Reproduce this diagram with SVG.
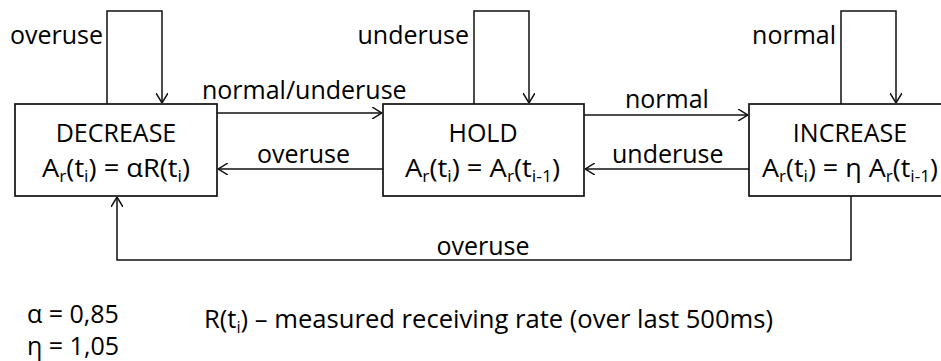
<svg xmlns="http://www.w3.org/2000/svg" width="941" height="361" viewBox="0 0 941 361">
<style>
.t{font-family:"Open Sans","Liberation Sans",sans-serif;font-size:25px;fill:#000}
.s{font-size:16px}
.b{fill:#fff;stroke:#111;stroke-width:1.7}
.c{fill:none;stroke:#111;stroke-width:1.5}
</style>
<defs>
<marker id="ah" viewBox="0 0 10 12" refX="10" refY="6" markerWidth="10" markerHeight="12" markerUnits="userSpaceOnUse" orient="auto">
<path d="M0,0 L10,6 L0,12" fill="none" stroke="#111" stroke-width="1.5"/>
</marker>
</defs>
<rect width="941" height="361" fill="#fff"/>
<g id="connectors">
<path class="c" d="M107,104 V11 H162 V103" marker-end="url(#ah)"/>
<path class="c" d="M474,104 V11 H529 V103" marker-end="url(#ah)"/>
<path class="c" d="M841,104 V11 H896 V103" marker-end="url(#ah)"/>
<path class="c" d="M217,113 H382" marker-end="url(#ah)"/>
<path class="c" d="M383,169 H218" marker-end="url(#ah)"/>
<path class="c" d="M584,115 H748" marker-end="url(#ah)"/>
<path class="c" d="M749,169 H585" marker-end="url(#ah)"/>
<path class="c" d="M851,196 V260 H117 V197" marker-end="url(#ah)"/>
<text class="t" x="103" y="44" text-anchor="end">overuse</text>
<text class="t" x="469" y="44" text-anchor="end">underuse</text>
<text class="t" x="836" y="44" text-anchor="end">normal</text>
<text class="t" x="202" y="99">normal/underuse</text>
<text class="t" x="257" y="163">overuse</text>
<text class="t" x="625" y="108">normal</text>
<text class="t" x="612" y="163">underuse</text>
<text class="t" x="483" y="255" text-anchor="middle">overuse</text>
</g>
<g id="decrease">
<rect class="b" x="15" y="104" width="202" height="92"/>
<text class="t" x="116" y="142" text-anchor="middle">DECREASE</text>
<text class="t" x="42" y="177" textLength="148" lengthAdjust="spacingAndGlyphs">A<tspan class="s" dy="5">r</tspan><tspan dy="-5">(t</tspan><tspan class="s" dy="5">i</tspan><tspan dy="-5">) = αR(t</tspan><tspan class="s" dy="5">i</tspan><tspan dy="-5">)</tspan></text>
</g>
<g id="hold">
<rect class="b" x="383" y="104" width="201" height="92"/>
<text class="t" x="483" y="142" text-anchor="middle">HOLD</text>
<text class="t" x="405" y="177" textLength="155" lengthAdjust="spacingAndGlyphs">A<tspan class="s" dy="5">r</tspan><tspan dy="-5">(t</tspan><tspan class="s" dy="5">i</tspan><tspan dy="-5">) = A</tspan><tspan class="s" dy="5">r</tspan><tspan dy="-5">(t</tspan><tspan class="s" dy="5">i-1</tspan><tspan dy="-5">)</tspan></text>
</g>
<g id="increase">
<rect class="b" x="749" y="104" width="202" height="92"/>
<text class="t" x="850" y="142" text-anchor="middle">INCREASE</text>
<text class="t" x="762" y="177" textLength="176" lengthAdjust="spacingAndGlyphs">A<tspan class="s" dy="5">r</tspan><tspan dy="-5">(t</tspan><tspan class="s" dy="5">i</tspan><tspan dy="-5">) = η A</tspan><tspan class="s" dy="5">r</tspan><tspan dy="-5">(t</tspan><tspan class="s" dy="5">i-1</tspan><tspan dy="-5">)</tspan></text>
</g>
<g id="legend">
<text class="t" x="27" y="323">α = 0,85</text>
<text class="t" x="27" y="355">η = 1,05</text>
<text class="t" x="204" y="328" textLength="569" lengthAdjust="spacingAndGlyphs">R(t<tspan class="s" dy="5">i</tspan><tspan dy="-5">) – measured receiving rate (over last 500ms)</tspan></text>
</g>
</svg>
